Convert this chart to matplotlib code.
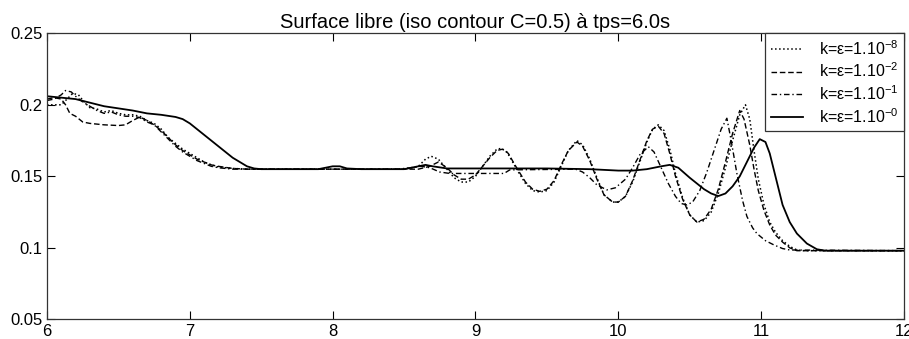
import matplotlib
matplotlib.use("Agg")
import matplotlib.pyplot as plt

plt.rcParams['font.family'] = ['Liberation Sans', 'DejaVu Sans']
plt.rcParams['mathtext.fontset'] = 'custom'
plt.rcParams['mathtext.rm'] = 'Liberation Sans'
plt.rcParams['mathtext.default'] = 'regular'

title = "Surface libre (iso contour C=0.5) à tps=6.0s"
labels = ["k=ε=1.10$^{-8}$", "k=ε=1.10$^{-2}$", "k=ε=1.10$^{-1}$", "k=ε=1.10$^{-0}$"]
xticks = [6, 7, 8, 9, 10, 11, 12]
yticks = [0.05, 0.1, 0.15, 0.2, 0.25]
yticklabels = ["0.05", "0.1", "0.15", "0.2", "0.25"]

# k=eps=1e-8 (dotted)
x_e8 = [6.0, 6.1, 6.14, 6.18, 6.22, 6.26, 6.3, 6.35, 6.4, 6.45, 6.5, 6.55, 6.6, 6.65, 6.7, 6.75,
        6.8, 6.85, 6.9, 6.95, 7.0, 7.05, 7.1, 7.15, 7.2, 7.3, 7.4, 8.5, 8.6, 8.65, 8.69, 8.74,
        8.8, 8.85, 8.9, 8.95, 9.0, 9.05, 9.1, 9.15, 9.18, 9.22, 9.26, 9.3, 9.35, 9.4, 9.45, 9.5,
        9.55, 9.6, 9.65, 9.71, 9.75, 9.8, 9.85, 9.9, 9.96, 10.0, 10.05, 10.1, 10.15, 10.2, 10.24,
        10.28, 10.32, 10.36, 10.4, 10.45, 10.5, 10.55, 10.6, 10.65, 10.7, 10.75, 10.8, 10.85,
        10.89, 10.92, 10.95, 10.98, 11.02, 11.06, 11.1, 11.15, 11.2, 11.25, 11.3, 12.0]
y_e8 = [0.200, 0.200, 0.204, 0.208, 0.207, 0.202, 0.198, 0.197, 0.195, 0.196, 0.194, 0.193, 0.193,
        0.192, 0.189, 0.187, 0.183, 0.177, 0.173, 0.169, 0.166, 0.163, 0.160, 0.158, 0.1565,
        0.1555, 0.155, 0.155, 0.157, 0.162, 0.164, 0.162, 0.155, 0.149, 0.146, 0.146, 0.150,
        0.157, 0.164, 0.169, 0.1695, 0.167, 0.160, 0.153, 0.145, 0.140, 0.139, 0.140, 0.146,
        0.157, 0.168, 0.175, 0.172, 0.162, 0.149, 0.137, 0.132, 0.132, 0.136, 0.146, 0.160,
        0.174, 0.183, 0.186, 0.182, 0.169, 0.152, 0.135, 0.123, 0.118, 0.119, 0.125, 0.138,
        0.156, 0.175, 0.193, 0.200, 0.190, 0.168, 0.148, 0.130, 0.118, 0.111, 0.105, 0.101,
        0.0985, 0.098, 0.098]

# k=eps=1e-2 (dashed)
x_e2 = [6.0, 6.05, 6.1, 6.13, 6.16, 6.2, 6.25, 6.3, 6.4, 6.5, 6.55, 6.6, 6.65, 6.7, 6.75, 6.8,
        6.85, 6.9, 6.95, 7.0, 7.05, 7.1, 7.15, 7.2, 7.3, 7.4, 8.5, 8.6, 8.68, 8.74, 8.8, 8.85,
        8.9, 8.95, 9.0, 9.05, 9.1, 9.15, 9.19, 9.23, 9.27, 9.3, 9.35, 9.4, 9.45, 9.5, 9.55, 9.6,
        9.65, 9.71, 9.75, 9.8, 9.85, 9.9, 9.96, 10.0, 10.05, 10.1, 10.15, 10.2, 10.24, 10.28,
        10.32, 10.36, 10.4, 10.45, 10.5, 10.55, 10.6, 10.65, 10.7, 10.75, 10.8, 10.85, 10.88,
        10.92, 10.95, 10.98, 11.02, 11.06, 11.1, 11.15, 11.2, 11.25, 12.0]
y_e2 = [0.204, 0.205, 0.204, 0.200, 0.194, 0.192, 0.188, 0.187, 0.186, 0.1855, 0.186, 0.189,
        0.1915, 0.189, 0.186, 0.182, 0.177, 0.172, 0.168, 0.165, 0.162, 0.160, 0.158, 0.157,
        0.1555, 0.155, 0.155, 0.155, 0.157, 0.160, 0.156, 0.151, 0.148, 0.148, 0.151, 0.157,
        0.163, 0.168, 0.169, 0.166, 0.159, 0.154, 0.146, 0.141, 0.1395, 0.141, 0.147, 0.158,
        0.168, 0.174, 0.171, 0.161, 0.148, 0.137, 0.132, 0.132, 0.136, 0.147, 0.161, 0.175,
        0.183, 0.185, 0.180, 0.166, 0.150, 0.134, 0.123, 0.118, 0.120, 0.127, 0.141, 0.160,
        0.180, 0.196, 0.190, 0.172, 0.155, 0.140, 0.126, 0.116, 0.109, 0.104, 0.100, 0.098, 0.098]

# k=eps=1e-1 (dash-dot)
x_e1 = [6.0, 6.05, 6.1, 6.13, 6.17, 6.2, 6.25, 6.3, 6.35, 6.4, 6.45, 6.5, 6.55, 6.6, 6.65, 6.7,
        6.75, 6.8, 6.85, 6.9, 6.95, 7.0, 7.05, 7.1, 7.15, 7.2, 7.3, 8.45, 8.55, 8.62, 8.68, 8.75,
        8.82, 9.2, 9.24, 9.7, 9.75, 9.8, 9.85, 9.92, 9.98, 10.05, 10.1, 10.15, 10.21, 10.25, 10.3,
        10.35, 10.4, 10.44, 10.48, 10.52, 10.57, 10.62, 10.67, 10.72, 10.76, 10.79, 10.83, 10.87,
        10.9, 10.94, 10.97, 11.03, 11.09, 11.15, 11.2, 12.0]
y_e1 = [0.203, 0.204, 0.207, 0.210, 0.209, 0.206, 0.202, 0.199, 0.196, 0.194, 0.195, 0.193,
        0.192, 0.192, 0.191, 0.188, 0.186, 0.181, 0.176, 0.171, 0.167, 0.164, 0.161, 0.159,
        0.157, 0.156, 0.155, 0.155, 0.156, 0.157, 0.156, 0.153, 0.152, 0.152, 0.1545, 0.155,
        0.153, 0.149, 0.144, 0.1405, 0.142, 0.148, 0.156, 0.165, 0.1707, 0.167, 0.156, 0.145,
        0.136, 0.131, 0.130, 0.132, 0.140, 0.153, 0.168, 0.183, 0.1906, 0.175, 0.152, 0.133,
        0.122, 0.114, 0.110, 0.105, 0.102, 0.0995, 0.0985, 0.098]

# k=eps=1e0 (solid)
x_e0 = [6.0, 6.1, 6.2, 6.3, 6.4, 6.5, 6.6, 6.7, 6.8, 6.9, 6.95, 7.0, 7.05, 7.1, 7.15, 7.2, 7.25,
        7.3, 7.35, 7.4, 7.45, 7.5, 7.9, 8.0, 8.05, 8.1, 8.2, 8.5, 8.6, 8.65, 8.7, 8.8, 9.0, 9.5,
        9.8, 10.0, 10.1, 10.2, 10.3, 10.36, 10.42, 10.5, 10.55, 10.6, 10.65, 10.7, 10.75, 10.8,
        10.85, 10.9, 10.95, 10.99, 11.03, 11.06, 11.1, 11.15, 11.2, 11.25, 11.32, 11.39, 11.45,
        12.0]
y_e0 = [0.206, 0.205, 0.204, 0.2015, 0.199, 0.1975, 0.196, 0.194, 0.193, 0.1915, 0.190, 0.187,
        0.183, 0.179, 0.175, 0.171, 0.167, 0.163, 0.160, 0.157, 0.1555, 0.155, 0.155, 0.157,
        0.157, 0.1555, 0.155, 0.155, 0.157, 0.158, 0.157, 0.1555, 0.1555, 0.1555, 0.155, 0.154,
        0.154, 0.155, 0.157, 0.158, 0.156, 0.149, 0.145, 0.141, 0.138, 0.1362, 0.138, 0.143,
        0.150, 0.160, 0.170, 0.176, 0.174, 0.166, 0.150, 0.130, 0.118, 0.110, 0.103, 0.099,
        0.098, 0.098]

fig = plt.figure(figsize=(9.09, 3.39), dpi=100)
ax = fig.add_axes([0.0517, 0.058, 0.9428, 0.8438])

ax.plot(x_e8, y_e8, color='black', linestyle=':', linewidth=1.1, label=labels[0])
ax.plot(x_e2, y_e2, color='black', linestyle='--', linewidth=1.0, dashes=(4, 2), label=labels[1])
ax.plot(x_e1, y_e1, color='black', linestyle='-.', linewidth=1.0, dashes=(4, 2, 1, 2), label=labels[2])
ax.plot(x_e0, y_e0, color='black', linestyle='-', linewidth=1.3, label=labels[3])

ax.set_xlim(6, 12)
ax.set_ylim(0.05, 0.25)
ax.set_xticks(xticks)
ax.set_xticklabels([str(t) for t in xticks])
ax.set_yticks(yticks)
ax.set_yticklabels(yticklabels)
ax.tick_params(direction='in', length=6, width=0.8, top=True, right=True,
               labelsize=12, pad=3, colors='black')
for s in ax.spines.values():
    s.set_linewidth(0.9)
    s.set_color('#333333')

ax.set_title(title, fontsize=14.5, pad=4)

leg = ax.legend(loc='upper right', borderaxespad=0, fancybox=False, framealpha=1,
                edgecolor='#333333', fontsize=11.5, handlelength=2.0, handletextpad=1.0,
                labelspacing=0.25, borderpad=0.35)
leg.get_frame().set_linewidth(0.9)

fig.savefig("out.png", dpi=100)
